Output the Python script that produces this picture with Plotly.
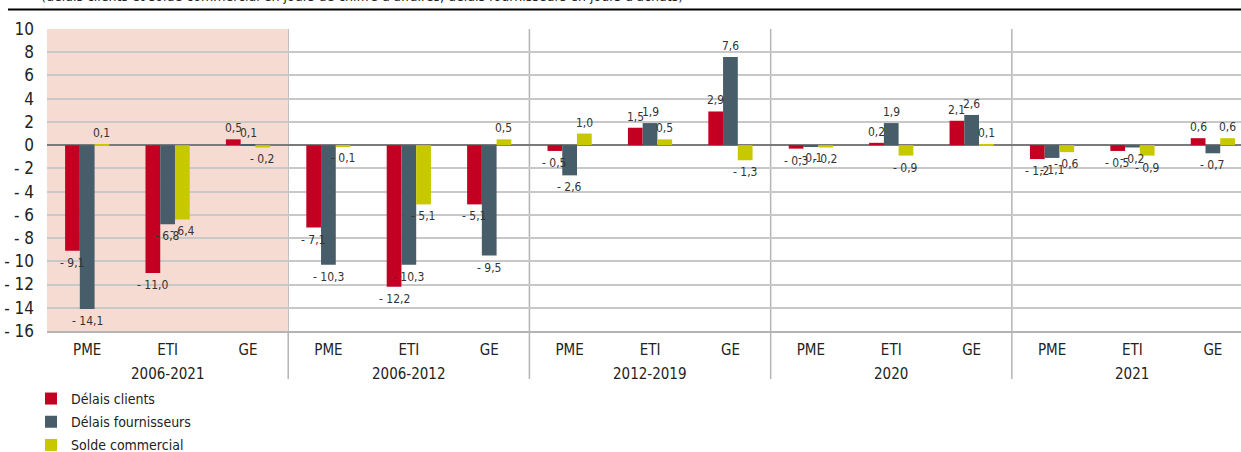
import plotly.graph_objects as go

periods = ["2006-2021", "2006-2012", "2012-2019", "2020", "2021"]
firms = ["PME", "ETI", "GE"]

delais_clients = [-9.1, -11.0, 0.5, -7.1, -12.2, -5.1, -0.5, 1.5, 2.9, -0.3, 0.2, 2.1, -1.2, -0.5, 0.6]
delais_fournisseurs = [-14.1, -6.8, 0.1, -10.3, -10.3, -9.5, -2.6, 1.9, 7.6, -0.1, 1.9, 2.6, -1.1, -0.2, -0.7]
solde_commercial = [0.1, -6.4, -0.2, -0.1, -5.1, 0.5, 1.0, 0.5, -1.3, -0.2, -0.9, 0.1, -0.6, -0.9, 0.6]

series_names = ["Délais clients", "Délais fournisseurs", "Solde commercial"]
colors = ["#c40022", "#475d69", "#c8c800"]

tick_vals = [10, 8, 6, 4, 2, 0, -2, -4, -6, -8, -10, -12, -14, -16]
tick_text = ["10", "8", "6", "4", "2", "0", "- 2", "- 4", "- 6", "- 8", "- 10", "- 12", "- 14", "- 16"]

title_text = "(délais clients et solde commercial en jours de chiffre d'affaires, délais fournisseurs en jours d'achats)"

FONT = "DejaVu Sans Condensed, Liberation Sans Narrow, sans-serif"
BARGAP = 0.45
n_f = len(firms)


def fmt(v):
    s = f"{abs(v):.1f}".replace(".", ",")
    return ("- " + s) if v < 0 else s


x_idx = list(range(len(periods) * n_f))
x_labels = [f for _ in periods for f in firms]
all_series = [delais_clients, delais_fournisseurs, solde_commercial]

fig = go.Figure()
for name, vals, col in zip(series_names, all_series, colors):
    fig.add_trace(go.Bar(
        x=x_idx, y=vals, name=name, marker_color=col, marker_line_width=0,
        legendgroup=name,
    ))

# data labels as annotations (drawn on top of all bars)
annotations = []
bw = (1 - BARGAP) / 3
for k, vals in enumerate(all_series):
    for i, v in enumerate(vals):
        annotations.append(dict(
            x=i + (k - 1) * bw, y=v, xref="x", yref="y", text=fmt(v), showarrow=False,
            yanchor="bottom" if v >= 0 else "top", yshift=2 if v >= 0 else -3,
            font=dict(family=FONT, size=12, color="#333333"),
        ))
# period (group) labels
for g, p in enumerate(periods):
    annotations.append(dict(
        x=g * n_f + (n_f - 1) / 2, y=-0.142, xref="x", yref="paper", text=p, showarrow=False,
        xanchor="center", yanchor="middle", font=dict(family=FONT, size=15, color="#222222"),
    ))
annotations.append(dict(text=title_text, xref="paper", yref="paper", x=-0.0067, y=1.109,
                        xanchor="left", yanchor="middle", showarrow=False,
                        font=dict(family=FONT, size=14, color="#222222")))

shapes = [
    dict(type="rect", xref="x", yref="y", x0=-0.5, x1=n_f - 0.5, y0=-16, y1=10,
         fillcolor="#f5dbd2", line_width=0, layer="below"),
]
for g in range(1, len(periods)):
    xb = g * n_f - 0.5
    shapes.append(dict(type="line", xref="x", yref="paper", x0=xb, x1=xb, y0=-0.159, y1=1,
                       line=dict(color="#b4b4b4", width=1.5), layer="below"))
shapes.append(dict(type="line", xref="paper", yref="paper", x0=-0.0327, x1=1.0, y0=1.0646, y1=1.0646,
                   line=dict(color="#000000", width=2)))

fig.update_layout(
    width=1241, height=452,
    margin=dict(l=47, r=0, t=29, b=121, autoexpand=False),
    paper_bgcolor="white", plot_bgcolor="white",
    barmode="group", bargap=BARGAP, bargroupgap=0,
    font=dict(family=FONT, size=15, color="#222222"),
    shapes=shapes,
    annotations=annotations,
    showlegend=True,
    legend=dict(x=-0.0134, y=-0.172, xanchor="left", yanchor="top", orientation="v",
                font=dict(family=FONT, size=14, color="#222222"), tracegroupgap=2),
)
fig.update_xaxes(
    range=[-0.5, 14.35], automargin=False,
    tickvals=x_idx, ticktext=x_labels,
    showline=True, linecolor="#b4b4b4", linewidth=1.5,
    tickfont=dict(family=FONT, size=15, color="#222222"),
    ticks="outside", ticklen=4, tickcolor="rgba(0,0,0,0)", showgrid=False, zeroline=False,
)
fig.update_yaxes(
    range=[-16, 10], tickvals=tick_vals, ticktext=tick_text, automargin=False,
    showgrid=True, gridcolor="#c8c8c8", gridwidth=1.5,
    zeroline=True, zerolinecolor="#7a7a7a", zerolinewidth=2,
    tickfont=dict(family=FONT, size=17, color="#222222"),
    ticks="", ticklabelstandoff=12,
)

fig.write_html("out.html", config={"displayModeBar": False},
               post_script="document.body.style.margin='0';")
